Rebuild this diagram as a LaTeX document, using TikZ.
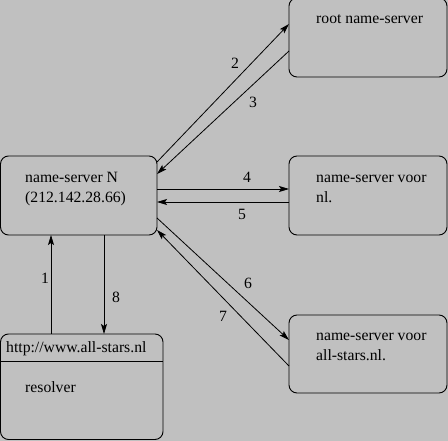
\documentclass[tikz,border=0pt]{standalone}
\usepackage{fontspec}
\setmainfont{Liberation Serif}
\usetikzlibrary{arrows.meta}
\definecolor{bg}{HTML}{C0C0C0}
\tikzset{
  box/.style={draw, rounded corners=8pt, inner sep=0pt, outer sep=0pt, line width=0.9pt},
  txt/.style={inner sep=0pt, font=\fontsize{15.7}{20}\selectfont, anchor=base west},
  num/.style={inner sep=0pt, font=\fontsize{15.7}{20}\selectfont},
  arr/.style={line width=0.8pt, -{Stealth[length=10pt,width=6pt,inset=2pt]}}
}
\begin{document}
\begin{tikzpicture}[x=1pt,y=-1pt]
\useasboundingbox (0,0) rectangle (448,441);
\fill[bg] (0,0) rectangle (448,441);
% boxes
\node[box, minimum width=158pt, minimum height=79pt] (root) at (368,37.5) {};
\node[box, minimum width=156.5pt, minimum height=79pt] (N) at (78.75,195.5) {};
\node[box, minimum width=158pt, minimum height=79pt] (nl) at (368,195.5) {};
\node[box, minimum width=158pt, minimum height=78pt] (as) at (368,354) {};
\node[box, minimum width=162.5pt, minimum height=105.5pt] (res) at (81.75,386.75) {};
\coordinate (divl) at (res.west |- 0,361);
\coordinate (divr) at (res.east |- 0,361);
\draw[line width=0.9pt] (divl) -- (divr);
% texts
\node[txt] (troot) at (316,24) {root name-server};
\node[txt] (tN1) at (25,183) {name-server N};
\node[txt] (tN2) at (25,202.5) {(212.142.28.66)};
\node[txt] (tnl1) at (316,183) {name-server voor};
\node[txt] (tnl2) at (316,203) {nl.};
\node[txt] (tas1) at (316,341) {name-server voor};
\node[txt] (tas2) at (316,360.5) {all-stars.nl.};
\node[txt] (tres1) at (6,353) {http://www.all-stars.nl};
\node[txt] (tres2) at (25,393) {resolver};
% connectors
\draw[arr] ([yshift=-6pt]N.north east) -- ([yshift=-26pt]root.north west);
\draw[arr] ([yshift=-53pt]root.north west) -- ([yshift=-18pt]N.north east);
\draw[arr] ([yshift=-33pt]N.north east) -- ([yshift=-33pt]nl.north west);
\draw[arr] ([yshift=-46pt]nl.north west) -- ([yshift=-46pt]N.north east);
\draw[arr] ([yshift=-62pt]N.north east) -- ([yshift=-25pt]as.north west);
\draw[arr] ([yshift=-51pt]as.north west) -- ([yshift=-74pt]N.north east);
\draw[arr] ([xshift=50.5pt]res.north west) -- ([xshift=50.5pt]N.south west);
\draw[arr] ([xshift=103.5pt]N.south west) -- ([xshift=103.5pt]res.north west);
% labels
\node[num] (l2) at (235,63) {2};
\node[num] (l3) at (253,102) {3};
\node[num] (l4) at (247,177) {4};
\node[num] (l5) at (242,214) {5};
\node[num] (l6) at (248,283) {6};
\node[num] (l7) at (223,316) {7};
\node[num] (l1) at (45,278) {1};
\node[num] (l8) at (116,297) {8};
\end{tikzpicture}
\end{document}
